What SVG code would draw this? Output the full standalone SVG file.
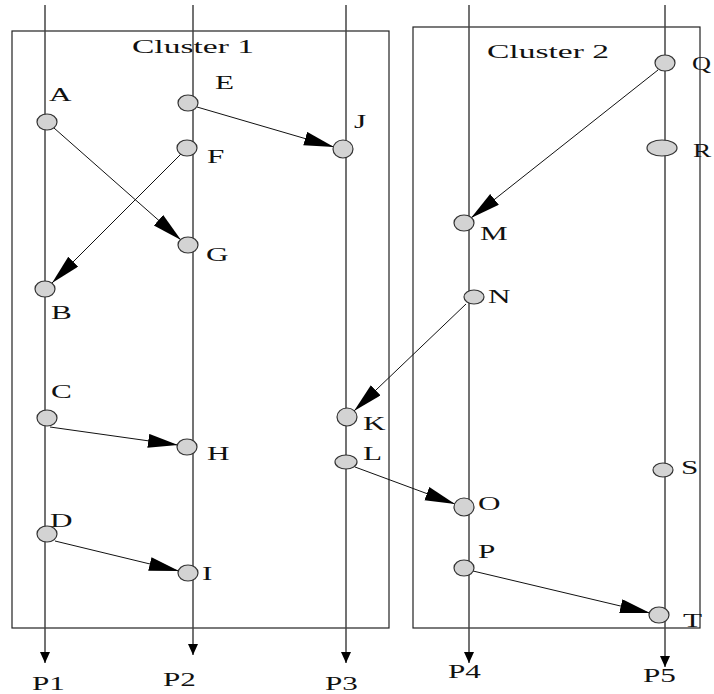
<svg xmlns="http://www.w3.org/2000/svg" width="714" height="694" viewBox="0 0 714 694">
<style>
.cl{fill:none;stroke:#222;stroke-width:1.2}
.pl{fill:none;stroke:#444;stroke-width:1.5}
.ed{fill:none;stroke:#111;stroke-width:1}
.nd{fill:#d3d3d3;stroke:#333;stroke-width:1.2}
text{font-family:"Liberation Serif","Times New Roman",serif;font-size:19.5px;fill:#111}
</style>
<defs>
<marker id="big" markerUnits="userSpaceOnUse" markerWidth="32" markerHeight="16" refX="30" refY="7" orient="auto">
<path d="M0,0 L30,7 L0,14 z" fill="#000"/>
</marker>
<marker id="sm" markerUnits="userSpaceOnUse" markerWidth="12" markerHeight="12" refX="11" refY="5" orient="auto">
<path d="M0,0 L11,5 L0,10 z" fill="#000"/>
</marker>
</defs>
<g id="cluster1">
<rect class="cl" x="12" y="31" width="377" height="597"/>
<text transform="translate(132 53) scale(1.72 1)">Cluster 1</text>
</g>
<g id="cluster2">
<rect class="cl" x="413" y="27" width="287" height="601"/>
<text transform="translate(487 58) scale(1.72 1)">Cluster 2</text>
</g>
<g id="processes">
<line class="pl" x1="45" y1="5" x2="45" y2="663" marker-end="url(#sm)"/>
<line class="pl" x1="193" y1="5" x2="193" y2="655" marker-end="url(#sm)"/>
<line class="pl" x1="346" y1="5" x2="346" y2="663" marker-end="url(#sm)"/>
<line class="pl" x1="469" y1="5" x2="469" y2="663" marker-end="url(#sm)"/>
<line class="pl" x1="665" y1="5" x2="665" y2="667" marker-end="url(#sm)"/>
<text transform="translate(32 690) scale(1.6 1)">P1</text>
<text transform="translate(163 686) scale(1.6 1)">P2</text>
<text transform="translate(325 690) scale(1.6 1)">P3</text>
<text transform="translate(448 678) scale(1.6 1)">P4</text>
<text transform="translate(643 682) scale(1.6 1)">P5</text>
</g>
<g id="connectors">
<line class="ed" x1="197" y1="107" x2="334" y2="147" marker-end="url(#big)"/>
<line class="ed" x1="54" y1="128" x2="181" y2="240" marker-end="url(#big)"/>
<line class="ed" x1="181" y1="154" x2="52" y2="283" marker-end="url(#big)"/>
<line class="ed" x1="50" y1="427" x2="178" y2="445" marker-end="url(#big)"/>
<line class="ed" x1="55" y1="541" x2="179" y2="571" marker-end="url(#big)"/>
<line class="ed" x1="658" y1="70" x2="471" y2="218" marker-end="url(#big)"/>
<line class="ed" x1="466" y1="304" x2="354" y2="411" marker-end="url(#big)"/>
<line class="ed" x1="355" y1="467" x2="455" y2="504" marker-end="url(#big)"/>
<line class="ed" x1="473" y1="571" x2="650" y2="613" marker-end="url(#big)"/>
</g>
<g id="A"><ellipse class="nd" cx="47" cy="122" rx="10" ry="8"/><text transform="translate(49 101) scale(1.6 1)">A</text></g>
<g id="B"><ellipse class="nd" cx="45" cy="289" rx="10" ry="8"/><text transform="translate(51 319) scale(1.6 1)">B</text></g>
<g id="C"><ellipse class="nd" cx="47" cy="418" rx="10" ry="8"/><text transform="translate(51 398) scale(1.6 1)">C</text></g>
<g id="D"><ellipse class="nd" cx="47" cy="534" rx="10" ry="8"/><text transform="translate(50 527) scale(1.6 1)">D</text></g>
<g id="E"><ellipse class="nd" cx="188" cy="103" rx="10" ry="8"/><text transform="translate(215 89) scale(1.6 1)">E</text></g>
<g id="F"><ellipse class="nd" cx="187" cy="148" rx="10" ry="8"/><text transform="translate(207 163) scale(1.6 1)">F</text></g>
<g id="G"><ellipse class="nd" cx="188" cy="245" rx="10" ry="8"/><text transform="translate(206 261) scale(1.6 1)">G</text></g>
<g id="H"><ellipse class="nd" cx="187" cy="447" rx="10" ry="8"/><text transform="translate(207 460) scale(1.6 1)">H</text></g>
<g id="I"><ellipse class="nd" cx="188" cy="573" rx="10" ry="8"/><text transform="translate(202 580) scale(1.6 1)">I</text></g>
<g id="J"><ellipse class="nd" cx="343" cy="149" rx="10" ry="9"/><text transform="translate(354 128) scale(1.6 1)">J</text></g>
<g id="K"><ellipse class="nd" cx="347" cy="417" rx="10" ry="9"/><text transform="translate(363 430) scale(1.6 1)">K</text></g>
<g id="L"><ellipse class="nd" cx="346" cy="462" rx="11" ry="7"/><text transform="translate(363 460) scale(1.6 1)">L</text></g>
<g id="M"><ellipse class="nd" cx="464" cy="223" rx="10" ry="8"/><text transform="translate(480 240) scale(1.6 1)">M</text></g>
<g id="N"><ellipse class="nd" cx="474" cy="297" rx="10" ry="7"/><text transform="translate(488 303) scale(1.6 1)">N</text></g>
<g id="O"><ellipse class="nd" cx="464" cy="507" rx="10" ry="9"/><text transform="translate(478 510) scale(1.6 1)">O</text></g>
<g id="P"><ellipse class="nd" cx="464" cy="568" rx="10" ry="8"/><text transform="translate(478 558) scale(1.6 1)">P</text></g>
<g id="Q"><ellipse class="nd" cx="665" cy="63" rx="10" ry="8"/><text transform="translate(692 70) scale(1.35 1)">Q</text></g>
<g id="R"><ellipse class="nd" cx="662" cy="148" rx="15" ry="8"/><text transform="translate(693 157) scale(1.4 1)">R</text></g>
<g id="S"><ellipse class="nd" cx="663" cy="470" rx="10" ry="7"/><text transform="translate(681 474) scale(1.6 1)">S</text></g>
<g id="T"><ellipse class="nd" cx="659" cy="615" rx="10" ry="8"/><text transform="translate(683 627) scale(1.6 1)">T</text></g>
</svg>
